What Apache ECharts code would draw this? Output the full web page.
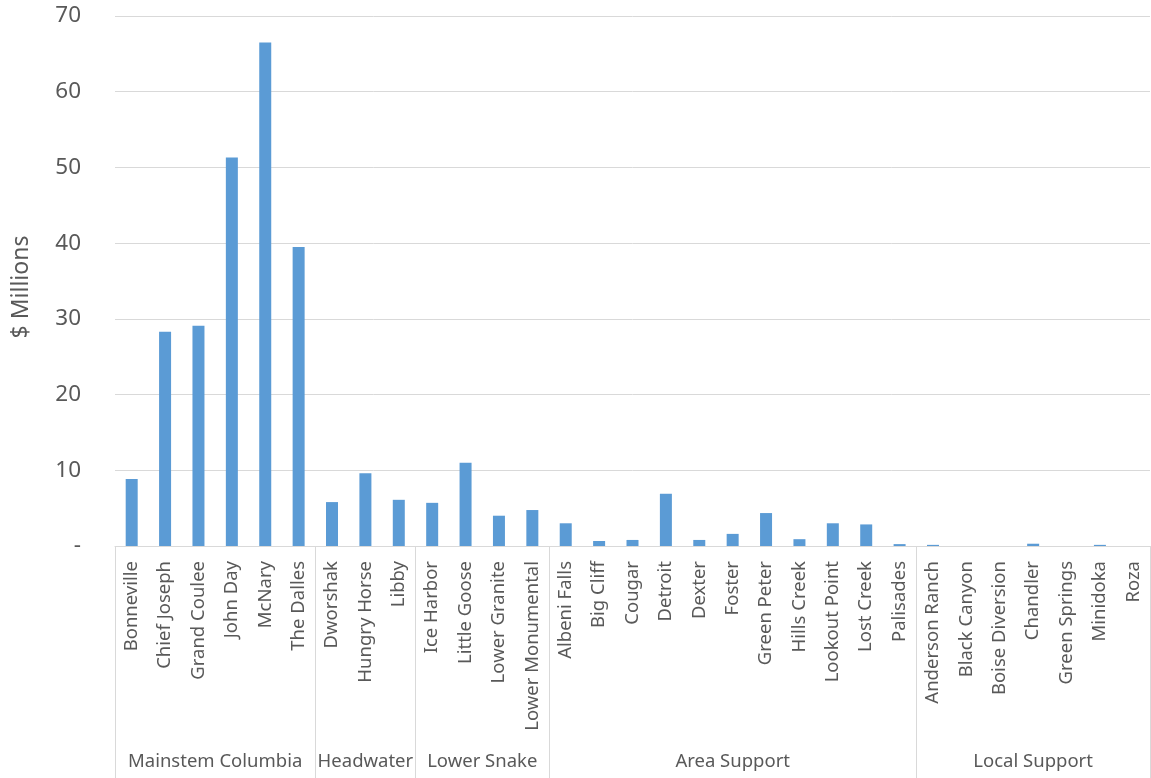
<!DOCTYPE html>
<html>
<head>
<meta charset="utf-8">
<script src="https://cdn.jsdelivr.net/npm/echarts@6/dist/echarts.min.js"></script>
<style>
  html, body { margin: 0; padding: 0; background: #fff; }
  #chart { width: 1151px; height: 778px; }
</style>
</head>
<body>
<div id="chart"></div>
<script>
const projects = [
  'Bonneville', 'Chief Joseph', 'Grand Coulee', 'John Day', 'McNary', 'The Dalles',
  'Dworshak', 'Hungry Horse', 'Libby',
  'Ice Harbor', 'Little Goose', 'Lower Granite', 'Lower Monumental',
  'Albeni Falls', 'Big Cliff', 'Cougar', 'Detroit', 'Dexter', 'Foster', 'Green Peter',
  'Hills Creek', 'Lookout Point', 'Lost Creek', 'Palisades',
  'Anderson Ranch', 'Black Canyon', 'Boise Diversion', 'Chandler', 'Green Springs', 'Minidoka', 'Roza'
];
const millions = [
  8.85, 28.3, 29.1, 51.3, 66.5, 39.5,
  5.8, 9.6, 6.1,
  5.7, 11.0, 4.0, 4.75,
  3.0, 0.66, 0.8, 6.9, 0.8, 1.6, 4.35,
  0.9, 3.0, 2.85, 0.25,
  0.15, 0, 0, 0.3, 0, 0.15, 0
];
const groups = ['Mainstem Columbia', 'Headwater', 'Lower Snake', 'Area Support', 'Local Support'];
const groupSizes = [6, 3, 4, 11, 7];

// group boundaries and centres in category units
const bounds = [0];
groupSizes.forEach(n => bounds.push(bounds[bounds.length - 1] + n));
const centers = groupSizes.map((n, i) => bounds[i] + n / 2);

const textColor = '#595959';
const lineColor = '#d9d9d9';
const font = 'Noto Sans';

const chart = echarts.init(document.getElementById('chart'));
chart.setOption({
  animation: false,
  grid: { left: 115, right: 1, top: 16, bottom: 232, outerBoundsMode: 'none' },
  xAxis: [
    {
      type: 'category',
      data: projects,
      axisTick: { show: false },
      axisLine: { lineStyle: { color: lineColor } },
      axisLabel: {
        interval: 0, rotate: 90, margin: 15,
        color: textColor, fontFamily: font, fontSize: 18.5
      }
    },
    {
      type: 'value',
      position: 'bottom',
      min: 0,
      max: projects.length,
      axisLine: { show: false },
      splitLine: { show: false },
      axisTick: {
        show: true, customValues: bounds, length: 232, inside: false,
        lineStyle: { color: lineColor }
      },
      axisLabel: {
        customValues: centers,
        margin: 206,
        color: textColor, fontFamily: font, fontSize: 18.5,
        formatter: v => groups[centers.indexOf(v)] || ''
      }
    }
  ],
  yAxis: {
    type: 'value',
    min: 0,
    max: 70,
    interval: 10,
    name: '$ Millions',
    nameLocation: 'middle',
    nameGap: 82,
    nameTextStyle: { color: textColor, fontFamily: font, fontSize: 23, padding: [0, 12, 0, 0] },
    axisLine: { show: false },
    axisTick: { show: false },
    axisLabel: {
      margin: 34, color: textColor, fontFamily: font, fontSize: 22.5,
      formatter: v => (v === 0 ? '-' : String(v))
    },
    splitLine: { lineStyle: { color: lineColor } }
  },
  series: [
    {
      type: 'bar',
      data: millions,
      barWidth: 12,
      itemStyle: { color: '#5b9bd5' }
    }
  ]
});
</script>
</body>
</html>
